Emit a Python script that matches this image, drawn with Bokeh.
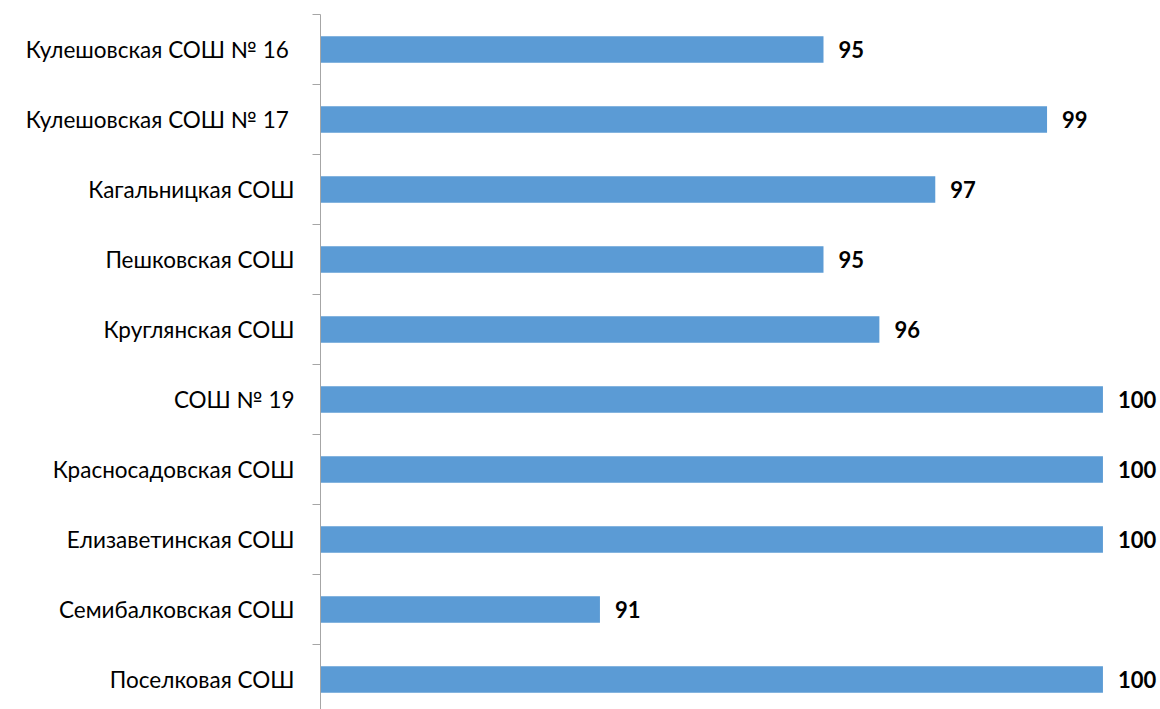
from bokeh.plotting import figure
from bokeh.models import ColumnDataSource, LabelSet, FixedTicker
from bokeh.core.properties import value
from bokeh.embed import file_html
from bokeh.resources import INLINE

schools = [
    "Кулешовская СОШ  № 16",
    "Кулешовская СОШ  № 17",
    "Кагальницкая СОШ",
    "Пешковская СОШ",
    "Круглянская СОШ",
    "СОШ № 19",
    "Красносадовская СОШ",
    "Елизаветинская СОШ",
    "Семибалковская СОШ",
    "Поселковая СОШ",
]
values = [95, 99, 97, 95, 96, 100, 100, 100, 91, 100]

n = len(schools)
ypos = [n - 1 - i for i in range(n)]
src = ColumnDataSource(dict(y=ypos, v=values, lbl=[str(v) for v in values], left=[86] * n))

p = figure(width=1160, height=709, output_backend="svg", toolbar_location=None,
           x_range=(86, 101.03), y_range=(9.5 - 695 / 70, 9.5),
           min_border_top=14, min_border_bottom=0, min_border_right=0, min_border_left=320)
p.outline_line_color = None
p.xaxis.visible = False
p.xgrid.visible = False
p.ygrid.visible = False

p.hbar(y="y", left="left", right="v", height=0.38, source=src,
       fill_color="#5B9BD5", line_color=None)

labels = LabelSet(x="v", y="y", text="lbl", source=src, x_offset=15,
                  text_align="left", text_baseline="middle",
                  text_font=value("Lato"), text_font_size=value("22px"),
                  text_font_style="bold", text_color="#000000")
p.add_layout(labels)

ax = p.yaxis[0]
ax.ticker = FixedTicker(ticks=ypos, minor_ticks=[k - 0.5 for k in range(n + 1)])
ax.major_label_overrides = {y: s for y, s in zip(ypos, schools)}
ax.major_tick_out = 0
ax.major_tick_in = 0
ax.minor_tick_out = 8
ax.minor_tick_in = 0
ax.axis_line_color = "#A6A6A6"
ax.minor_tick_line_color = "#A6A6A6"
ax.major_label_standoff = 18
ax.major_label_text_font = "Lato"
ax.major_label_text_font_size = "22.5px"
ax.major_label_text_color = "#000000"

open("out.html", "w").write(file_html(p, INLINE))
